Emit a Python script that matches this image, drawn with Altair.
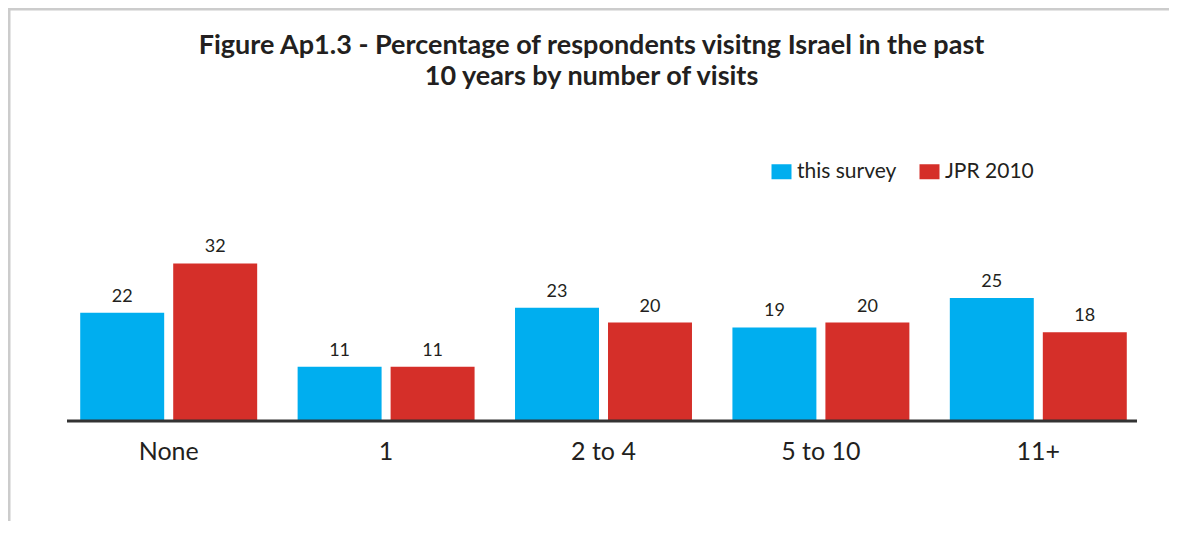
import altair as alt
import pandas as pd

categories = ["None", "1", "2 to 4", "5 to 10", "11+"]
series_names = ["this survey", "JPR 2010"]
this_survey = [22, 11, 23, 19, 25]
jpr_2010 = [32, 11, 20, 20, 18]
colors = ["#00AEEF", "#D52F29"]
title_lines = [
    "Figure Ap1.3 - Percentage of respondents visitng Israel in the past",
    "10 years by number of visits",
]

rows = []
for i, c in enumerate(categories):
    rows.append({"cat": c, "series": series_names[0], "value": this_survey[i]})
    rows.append({"cat": c, "series": series_names[1], "value": jpr_2010[i]})
df = pd.DataFrame(rows)

FONT = "Lato"
TXT = "#231F20"

x_enc = alt.X("cat:N", sort=categories, title=None,
              scale=alt.Scale(paddingInner=0.186, paddingOuter=0.093),
              axis=alt.Axis(domain=False, ticks=False, labelAngle=0,
                            labelFontSize=25, labelFont=FONT, labelColor=TXT,
                            labelPadding=18))
xoff = alt.XOffset("series:N", sort=series_names,
                   scale=alt.Scale(paddingInner=0.097, paddingOuter=0))
y_enc = alt.Y("value:Q", scale=alt.Scale(domain=[0, 40]), axis=None)

base = alt.Chart(df)

bars = base.mark_bar().encode(
    x=x_enc, xOffset=xoff, y=y_enc,
    color=alt.Color("series:N", sort=series_names,
                    scale=alt.Scale(domain=series_names, range=colors),
                    legend=alt.Legend(title=None, orient="none", direction="horizontal",
                                      legendX=711, legendY=-63,
                                      symbolType="M-1,-0.75H1V0.75H-1Z", symbolSize=400,
                                      symbolStrokeWidth=0,
                                      labelFontSize=21, labelFont=FONT, labelColor=TXT,
                                      labelOffset=5, columnPadding=22)),
)

labels = base.mark_text(baseline="bottom", dy=-7, fontSize=18, font=FONT, color=TXT).encode(
    x=x_enc, xOffset=xoff, y=y_enc, text="value:Q"
)

baseline = alt.Chart(pd.DataFrame({"v": [0]})).mark_rule(color="#333333", strokeWidth=3).encode(
    x=alt.value(7), x2=alt.value(1077), y=alt.Y("v:Q", scale=alt.Scale(domain=[0, 40]), axis=None)
)

frame_top = alt.Chart(pd.DataFrame({"v": [0]})).mark_rule(color="#CCCCCC", strokeWidth=3).encode(
    x=alt.value(-52), x2=alt.value(1110), y=alt.value(-215)
)
frame_left = alt.Chart(pd.DataFrame({"v": [0]})).mark_rule(color="#CCCCCC", strokeWidth=3).encode(
    x=alt.value(-51), y=alt.value(-216), y2=alt.value(305)
)

chart = alt.layer(frame_top, frame_left, bars, labels, baseline).resolve_scale(y="shared").properties(
    width=1087, height=197,
    autosize=alt.AutoSizeParams(type="none"),
    padding={"left": 52, "top": 216, "right": 22, "bottom": 100},
    title=alt.TitleParams(text=title_lines, fontSize=27, font=FONT, fontWeight="bold",
                          color=TXT, anchor="middle", frame="group", dx=-12,
                          baseline="bottom", lineHeight=31, offset=0, dy=111),
).configure_view(stroke=None)

chart.save("out.html", embed_options={"renderer": "svg", "actions": False})
